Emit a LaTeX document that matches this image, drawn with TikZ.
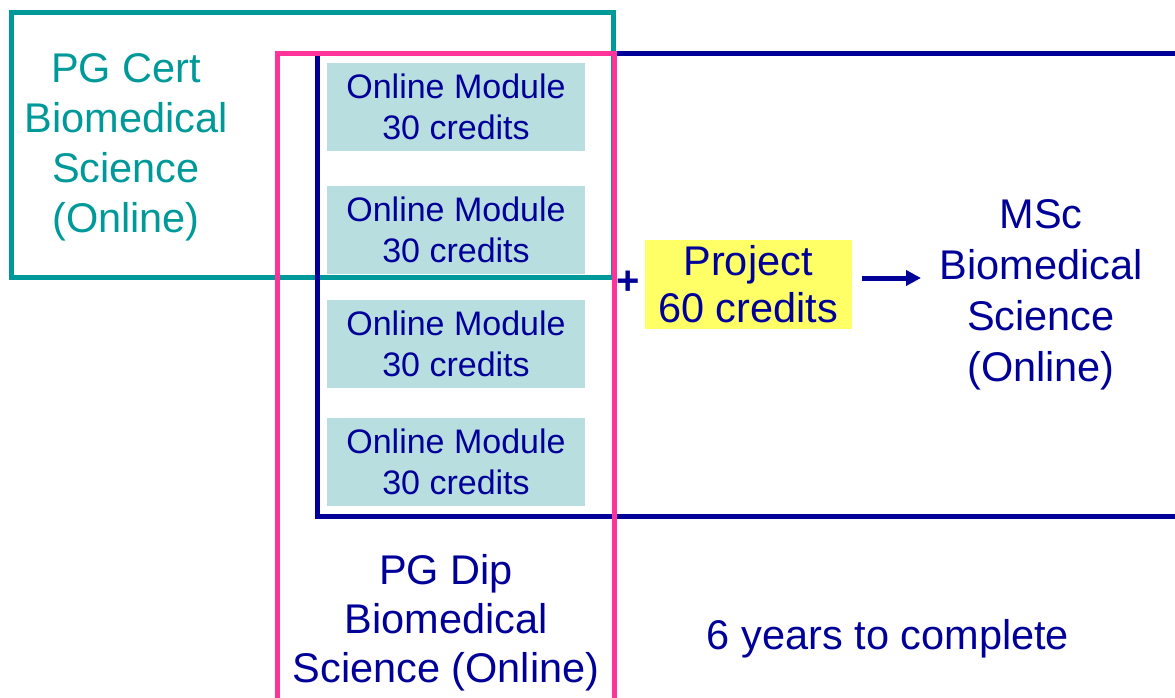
\documentclass[tikz,border=0pt]{standalone}
\usepackage{fontspec}
\setmainfont{Liberation Sans}
\usetikzlibrary{arrows.meta}
\definecolor{tealc}{RGB}{0,153,153}
\definecolor{pinkc}{RGB}{255,51,153}
\definecolor{navyc}{RGB}{0,0,153}
\definecolor{modfill}{RGB}{184,222,224}
\definecolor{projfill}{RGB}{255,255,102}
\begin{document}
\begin{tikzpicture}[x=1pt,y=-1pt,
  frame/.style={line width=5pt},
  modbox/.style={fill=modfill, minimum width=258pt, minimum height=88pt, inner sep=0pt,
    text=navyc, align=center, font=\fontsize{34}{41}\selectfont},
  projbox/.style={fill=projfill, minimum width=207pt, minimum height=89pt, inner sep=0pt,
    text=navyc, align=center, font=\fontsize{41.5}{47}\selectfont},
  bigtext/.style={align=center, inner sep=0pt, font=\fontsize{41.5}{50}\selectfont},
  arrowline/.style={navyc, line width=5pt, -{Triangle[length=15pt,width=15pt]}}
]
\useasboundingbox (0,0) rectangle (1175,697);
% frames
\draw[frame, tealc] (11,12) rectangle (613,277);
\draw[frame, navyc] (317,53) rectangle (1177,516);
% modules
\node[modbox] (m1) at (456,107) {Online Module\\30 credits};
\node[modbox] (m2) at (456,230) {Online Module\\30 credits};
\node[modbox] (m3) at (456,344) {Online Module\\30 credits};
\node[modbox] (m4) at (456,462) {Online Module\\30 credits};
\draw[frame, pinkc] (277,53) rectangle (614,720);
% labels
\node[bigtext, text=tealc] (cert) at (126,147) {PG Cert\\Biomedical\\Science\\(Online)};
\node[bigtext, text=navyc, font=\fontsize{41.5}{49}\selectfont] (dip) at (446,623) {PG Dip\\Biomedical\\Science (Online)};
\node[bigtext, text=navyc, font=\fontsize{41.5}{51}\selectfont] (msc) at (1041,295) {MSc\\Biomedical\\Science\\(Online)};
\node[bigtext, text=navyc] (years) at (888,639) {6 years to complete};
\node[projbox] (proj) at (748,284) {\raisebox{0pt}{Project}\\60 credits};
\node[text=navyc, inner sep=0pt, font=\fontsize{40}{40}\selectfont\bfseries] (plus) at (628,283) {+};
\coordinate (arrend) at (921,278);
\draw[arrowline, shorten <=10pt] (proj.east |- arrend) -- (arrend);
\end{tikzpicture}
\end{document}
